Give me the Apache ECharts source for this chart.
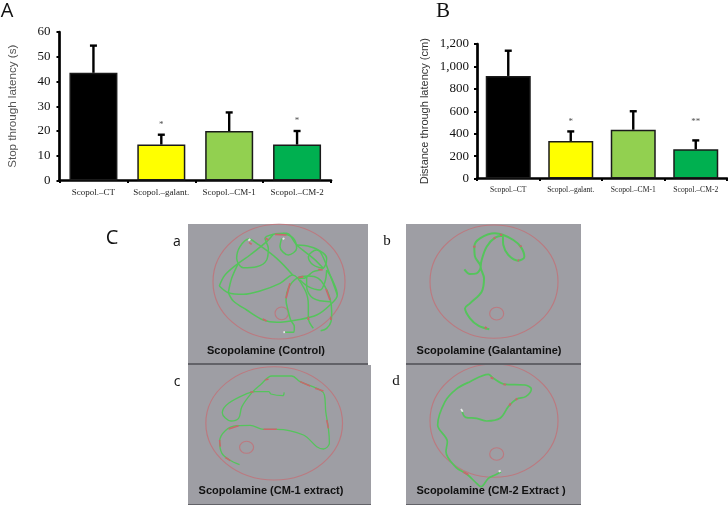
<!DOCTYPE html>
<html>
<head>
<meta charset="utf-8">
<style>html,body{margin:0;padding:0;background:#fff}#c{width:728px;height:505px}</style>
<script src="https://cdn.jsdelivr.net/npm/echarts@6/dist/echarts.min.js"></script>
</head>
<body>
<div id="c"></div>
<script>
// ---- bar charts data ----
const categories = ['Scopol.–CT', 'Scopol.–galant.', 'Scopol.–CM-1', 'Scopol.–CM-2'];
const barColors = ['#000000', '#ffff00', '#92d050', '#00b050'];
const stopMean = [43.5, 14.5, 20, 14.5];
const stopErrTop = [54.5, 18.5, 27.5, 20];
const stopStars = [null, '*', null, '*'];
const stopStarY = [null, 22.5, null, 24];
const distMean = [915, 335, 435, 260];
const distErrTop = [1140, 420, 600, 340];
const distStars = [null, '*', null, '**'];
const distStarY = [null, 510, null, 510];

// ---- tracking traces (in panel units) ----
const traceA = [
  [[553,352],[580,352],[583,335],[572,315],[565,290],[558,255],[565,220],[590,190],[625,183],[655,190],[675,215],[690,250],[695,290],[693,320],[680,340],[662,347]],
  [[358,213],[385,233],[430,238],[480,228],[540,205],[578,180],[615,225],[625,270],[625,310],[640,340]],
  [[358,213],[375,180],[415,145],[450,120],[500,80],[520,58]],
  [[385,233],[400,258],[440,285],[490,315],[530,322],[590,315],[650,300],[690,270],[712,240],[695,190],[680,165]],
  [[415,145],[395,190],[385,233]],
  [[578,180],[530,130],[470,85],[447,72],[420,95],[410,130],[430,158],[470,155],[500,135],[505,100],[495,70],[520,58],[560,55],[590,90],[640,130],[670,160],[640,150],[625,125],[650,105],[680,130],[670,160],[640,170],[610,190],[590,190]],
  [[545,70],[540,95],[565,120],[590,100],[580,70],[550,55]],
  [[590,90],[630,95],[660,110],[690,180],[712,240]],
  [[600,195],[625,215],[660,225],[675,200],[680,165]],
  [[620,185],[620,215],[640,250],[690,260]]
];
const redA = [
  [[488,312],[500,318]],[[525,58],[560,60]],[[570,205],[558,250]],[[595,188],[610,185]],
  [[678,222],[690,255]],[[625,305],[625,315]],[[692,305],[693,315]],[[447,82],[455,88]],[[655,163],[668,165]],[[497,70],[505,75]]
];
const traceB = [
  [[283,163],[300,177],[320,175],[332,155],[315,125],[313,95],[330,70],[375,55],[400,60],[430,75],[452,95],[463,125],[445,137],[415,120],[400,90],[398,62],[375,68],[350,95],[335,135],[332,155],[342,190],[335,230],[300,265],[285,280],[300,310],[325,332],[358,343]]
];
const redB = [[[312,92],[314,98]],[[371,68],[376,71]],[[390,59],[397,60]],[[451,91],[453,96]],[[443,135],[447,137]],[[344,337],[350,340]]];
const traceC = [
  [[372,97],[368,107],[332,102],[326,95],[285,95],[262,100],[205,130],[186,158],[212,183],[235,175],[245,140],[275,98],[300,75],[335,48],[395,48],[420,65],[480,90],[493,105],[497,155],[505,205],[508,250],[490,267],[470,260],[430,225],[350,208],[310,208],[270,196],[230,197],[195,212],[178,245],[185,280],[208,300],[238,314]]
];
const redC = [
  [[270,97],[280,95]],[[315,60],[325,57]],[[420,65],[450,78]],[[465,85],[490,93]],[[500,180],[505,205]],
  [[310,208],[350,208]],[[235,197],[205,207]],[[178,240],[180,260]],[[195,292],[210,302]]
];
const traceD = [
  [[275,150],[287,172],[320,175],[350,183],[390,175],[415,140],[440,117],[467,110],[484,87],[465,75],[405,73],[370,55],[355,43],[300,65],[258,88],[225,125],[203,195],[232,245],[228,275],[258,322],[290,342],[322,372],[333,380],[355,355],[375,345],[393,335]]
];
const redD = [[[362,52],[370,56]],[[400,73],[408,74]],[[418,137],[422,130]],[[437,120],[442,115]],[[280,336],[295,344]]];
const whiteA = [[[445,77],[451,72]],[[548,73],[553,69]],[[550,352],[555,351]]];
const whiteD = [[[273,147],[278,155]],[[386,335],[392,332]]];

const panelNames = ['Scopolamine (Control)', 'Scopolamine (Galantamine)', 'Scopolamine (CM-1 extract)', 'Scopolamine (CM-2 Extract )'];

const panels = [
  {px:[188,224,180,139], ext:[264,804,27,444], arena:[537,200,396,344], target:[545,295,40,38], green:traceA, red:redA, white:whiteA, lw:1.5},
  {px:[406,224,175,139], ext:[108,633,27,444], arena:[372,200,384,340], target:[380,296,42,38], green:traceB, red:redB, white:[], lw:2},
  {px:[188,365,183,139], ext:[83,633,15,432], arena:[342,190,410,340], target:[259,262,42,36], green:traceC, red:redC, white:[], lw:1.3},
  {px:[406,365,175,139], ext:[108,633,15,432], arena:[372,182,384,340], target:[380,282,42,38], green:traceD, red:redD, white:whiteD, lw:1.7}
];

const grid = [
  {left:59.5, top:32, width:271.5, height:148.5},
  {left:477, top:44, width:250, height:134.5}
];
const xAxis = [], yAxis = [], series = [];

function catAxis(idx, size, margin){
  return {type:'category', gridIndex:idx, data:categories,
    axisLine:{show:true, lineStyle:{color:'#000', width:2.7}},
    axisTick:{show:true, length:2.5, lineStyle:{color:'#000', width:2}},
    axisLabel:{interval:0, fontFamily:'Liberation Serif', fontSize:size, color:'#222', margin:margin}};
}
function valAxis(idx, max, interval, name, gap, nameColor, nameSize, margin, fmt){
  return {type:'value', gridIndex:idx, min:0, max:max, interval:interval, name:name,
    nameLocation:'middle', nameGap:gap, nameRotate:90,
    nameTextStyle:{fontFamily:'Liberation Sans', fontSize:nameSize, color:nameColor},
    splitLine:{show:false},
    axisLine:{show:true, lineStyle:{color:'#000', width:2.7}},
    axisTick:{show:true, length:3, lineStyle:{color:'#000', width:2}},
    axisLabel:{fontFamily:'Liberation Serif', fontSize:13, color:'#111', margin:margin, formatter:fmt}};
}
xAxis.push(catAxis(0, 9, 8), catAxis(1, 7.6, 7));
yAxis.push(
  valAxis(0, 60, 10, 'Stop through latency (s)', 41, '#555', 11.6, 9, v => String(v)),
  valAxis(1, 1200, 200, 'Distance through latency (cm)', 47, '#333', 11, 8, v => v.toLocaleString('en-US'))
);

function addBars(idx, means, tops, stars, starY, barW){
  const cap = 3.5;
  series.push({type:'custom', xAxisIndex:idx, yAxisIndex:idx, z:1, silent:true,
    data: means.map((m,i)=>[i,m,tops[i]]),
    encode:{x:0, y:[1,2]},
    renderItem:function(p, api){
      const x = api.value(0);
      const a = api.coord([x, api.value(1)]);
      const b = api.coord([x, api.value(2)]);
      const st = {stroke:'#000', lineWidth:2.4};
      return {type:'group', children:[
        {type:'line', shape:{x1:a[0],y1:a[1],x2:b[0],y2:b[1]}, style:st},
        {type:'line', shape:{x1:b[0]-cap,y1:b[1],x2:b[0]+cap,y2:b[1]}, style:st}
      ]};
    }});
  series.push({type:'bar', xAxisIndex:idx, yAxisIndex:idx, z:2, barWidth:barW,
    data: means.map((m,i)=>({value:m, itemStyle:{color:barColors[i], borderColor:'#1a1a1a', borderWidth:1.5}}))});
  series.push({type:'scatter', xAxisIndex:idx, yAxisIndex:idx, z:3, symbolSize:0.01, silent:true,
    data: stars.map((s,i)=> s ? {value:[i, starY[i]], star:s} : null).filter(Boolean),
    label:{show:true, position:'inside', fontFamily:'Liberation Serif', fontSize:9, color:'#222',
      formatter:p=>p.data.star}});
}
addBars(0, stopMean, stopErrTop, stopStars, stopStarY, 48);
addBars(1, distMean, distErrTop, distStars, distStarY, 45);

panels.forEach((p,k)=>{
  const g = grid.length;
  grid.push({left:p.px[0], top:p.px[1], width:p.px[2], height:p.px[3], show:true, backgroundColor:'#9e9ea4', borderWidth:0});
  xAxis.push({type:'value', gridIndex:g, min:p.ext[0], max:p.ext[1], show:false});
  yAxis.push({type:'value', gridIndex:g, min:p.ext[2], max:p.ext[3], inverse:true, show:false});
  const ax = {xAxisIndex:g, yAxisIndex:g, silent:true};
  const ring = (c, lw) => ({type:'scatter', ...ax, z:2,
    symbol:'circle', symbolSize:[c[2]/3, c[3]/3],
    itemStyle:{color:'rgba(0,0,0,0)', borderColor:'#bb7a80', borderWidth:lw, opacity:1},
    data:[[c[0], c[1]]]});
  series.push(ring(p.arena, 1.1), ring(p.target, 1.1));
  p.green.forEach(t=>series.push({type:'line', ...ax, z:3, data:t, symbol:'none', smooth:0.35,
    lineStyle:{color:'#55c45c', width:p.lw}}));
  p.red.forEach(t=>series.push({type:'line', ...ax, z:4, data:t, symbol:'none',
    lineStyle:{color:'#c9666c', width:p.lw+0.2}}));
  p.white.forEach(t=>series.push({type:'line', ...ax, z:5, data:t, symbol:'none',
    lineStyle:{color:'#e6e6e6', width:1.8}}));
});

const letter = (t,x,y,size,font,color) => ({type:'text', x:x, y:y, z:10, style:{text:t, fill:color||'#111', font:size+'px "'+font+'"', textAlign:'center', textVerticalAlign:'middle'}});
const caption = (t,x,y) => ({type:'text', x:x, y:y, z:10, style:{text:t, fill:'#111', font:'bold 11px "Liberation Sans"', textAlign:'center', textVerticalAlign:'middle'}});
const strip = (x,y,w,h) => ({type:'rect', z:9, shape:{x:x,y:y,width:w,height:h}, style:{fill:'#626268'}});

const chart = echarts.init(document.getElementById('c'), null, {renderer:'canvas', width:728, height:505});
chart.setOption({
  animation:false,
  grid, xAxis, yAxis, series,
  graphic:[
    strip(188,363,180,2), strip(406,363,175,2), strip(188,504,183,1), strip(406,504,175,1),
    letter('A',7,11,20,'Open Sans'), letter('B',443,11,21,'Liberation Serif'),
    letter('C',112,238,20,'Open Sans'),
    letter('a',177,242,14,'Open Sans'), letter('b',387,241,15,'Liberation Serif'),
    letter('c',177,382,14,'Open Sans'), letter('d',396,381,15,'Liberation Serif'),
    caption(panelNames[0],266,351), caption(panelNames[1],489,351),
    caption(panelNames[2],271,491), caption(panelNames[3],491,491)
  ]
});
</script>
</body>
</html>
